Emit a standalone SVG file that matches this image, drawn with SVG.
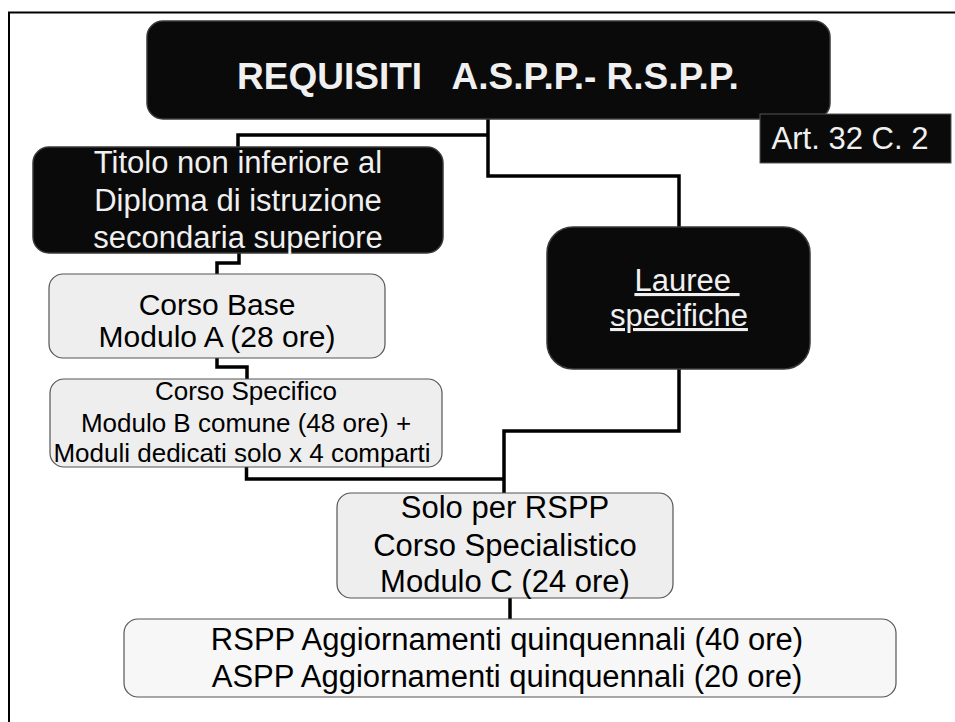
<svg xmlns="http://www.w3.org/2000/svg" width="955" height="722" viewBox="0 0 955 722">
<style>
.dark{fill:#0a0a0a;stroke:#3a3a3a;stroke-width:1.5}
.light{fill:#eeeeee;stroke:#555555;stroke-width:1.2}
.pale{fill:#f7f7f7;stroke:#555555;stroke-width:1.2}
.wt{fill:#f0f0f0;font-family:"Liberation Sans",Arial,sans-serif;text-anchor:middle}
.bt{fill:#000000;font-family:"Liberation Sans",Arial,sans-serif;text-anchor:middle}
.conn{fill:none;stroke:#000000;stroke-width:3.5;stroke-linejoin:miter}
</style>
<rect x="0" y="0" width="955" height="722" fill="#ffffff"/>
<rect x="9" y="12.5" width="1000" height="800" fill="none" stroke="#000000" stroke-width="2"/>
<g id="connectors">
<path class="conn" d="M488,119 V176 H679 V227"/>
<path class="conn" d="M488,135 H238 V147"/>
<path class="conn" d="M239,253 V263 H217 V275"/>
<path class="conn" d="M217,358 V367 H247 V380"/>
<path class="conn" d="M246.5,467 V479 H504"/>
<path class="conn" d="M679,369 V431 H504 V493"/>
<path class="conn" d="M510,598 V619"/>
</g>
<g id="title">
<rect class="dark" x="147" y="21" width="683" height="98" rx="16"/>
<text class="wt" x="488" y="89" font-size="37" font-weight="bold" xml:space="preserve">REQUISITI   A.S.P.P.- R.S.P.P.</text>
</g>
<g id="art">
<rect x="760" y="114" width="191" height="49" fill="#0a0a0a" stroke="#555555" stroke-width="1"/>
<text class="wt" x="850" y="149" font-size="31">Art. 32 C. 2</text>
</g>
<g id="titolo">
<rect class="dark" x="33" y="147" width="410" height="106" rx="16"/>
<text class="wt" font-size="31"><tspan x="238" y="173">Titolo non inferiore al</tspan><tspan x="238" y="210.5">Diploma di istruzione</tspan><tspan x="238" y="248">secondaria superiore</tspan></text>
</g>
<g id="lauree">
<rect class="dark" x="547" y="227" width="263" height="142" rx="26"/>
<text class="wt" font-size="31" text-decoration="underline" xml:space="preserve"><tspan x="687" y="291">Lauree </tspan><tspan x="679" y="326">specifiche</tspan></text>
</g>
<g id="corso-base">
<rect class="light" x="49" y="274" width="336" height="84" rx="14"/>
<text class="bt" font-size="30"><tspan x="217" y="315">Corso Base</tspan><tspan x="217" y="347">Modulo A (28 ore)</tspan></text>
</g>
<g id="corso-specifico">
<rect class="light" x="50" y="379" width="392" height="88" rx="14"/>
<text class="bt" font-size="26"><tspan x="246" y="400">Corso Specifico</tspan><tspan x="246" y="432">Modulo B comune (48 ore) +</tspan><tspan x="242" y="462">Moduli dedicati solo x 4 comparti</tspan></text>
</g>
<g id="solo-rspp">
<rect class="light" x="337" y="493" width="336" height="105" rx="14"/>
<text class="bt" font-size="31"><tspan x="505" y="518">Solo per RSPP</tspan><tspan x="505" y="556">Corso Specialistico</tspan><tspan x="505" y="592">Modulo C (24 ore)</tspan></text>
</g>
<g id="aggiornamenti">
<rect class="pale" x="124" y="619" width="772" height="78" rx="14"/>
<text class="bt" font-size="31"><tspan x="507" y="650">RSPP Aggiornamenti quinquennali (40 ore)</tspan><tspan x="507" y="687">ASPP Aggiornamenti quinquennali (20 ore)</tspan></text>
</g>
</svg>
